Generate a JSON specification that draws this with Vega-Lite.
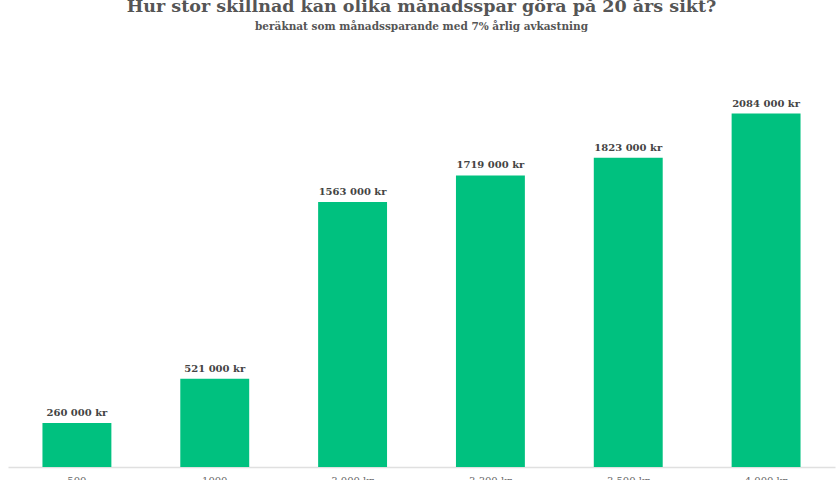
{
  "$schema": "https://vega.github.io/schema/vega-lite/v6.json",
  "autosize": "none",
  "width": 827,
  "height": 407,
  "padding": {"left": 8, "top": 60, "right": 5, "bottom": 13},
  "background": "white",
  "title": {
    "text": "Hur stor skillnad kan olika månadsspar göra på 20 års sikt?",
    "subtitle": "beräknat som månadssparande med 7% årlig avkastning",
    "anchor": "middle",
    "font": "DejaVu Serif",
    "fontSize": 17.5,
    "fontWeight": "bold",
    "color": "#555555",
    "subtitleFont": "DejaVu Serif",
    "subtitleFontSize": 10.5,
    "subtitleFontWeight": "bold",
    "subtitleColor": "#555555",
    "subtitlePadding": 6,
    "offset": 28
  },
  "data": {
    "values": [
      {"spar": "500", "value": 260000, "label": "260 000 kr"},
      {"spar": "1000", "value": 521000, "label": "521 000 kr"},
      {"spar": "3 000 kr", "value": 1563000, "label": "1563 000 kr"},
      {"spar": "3 300 kr", "value": 1719000, "label": "1719 000 kr"},
      {"spar": "3 500 kr", "value": 1823000, "label": "1823 000 kr"},
      {"spar": "4 000 kr", "value": 2084000, "label": "2084 000 kr"}
    ]
  },
  "encoding": {
    "x": {
      "field": "spar",
      "type": "nominal",
      "sort": null,
      "scale": {"paddingInner": 0.5, "paddingOuter": 0.25},
      "axis": {
        "title": null,
        "labelAngle": 0,
        "ticks": false,
        "domainColor": "#e0e0e0",
        "domainWidth": 1.5,
        "labelFont": "DejaVu Serif",
        "labelFontSize": 10,
        "labelColor": "#666666",
        "labelPadding": 8
      }
    },
    "y": {
      "field": "value",
      "type": "quantitative",
      "scale": {"domain": [0, 2400000]},
      "axis": null
    }
  },
  "layer": [
    {
      "mark": {"type": "bar", "color": "#00C17F"}
    },
    {
      "mark": {
        "type": "text",
        "baseline": "bottom",
        "dy": -5,
        "font": "DejaVu Serif",
        "fontSize": 10,
        "fontWeight": "bold",
        "color": "#444444"
      },
      "encoding": {
        "text": {"field": "label"}
      }
    }
  ],
  "config": {
    "view": {"stroke": null}
  }
}
